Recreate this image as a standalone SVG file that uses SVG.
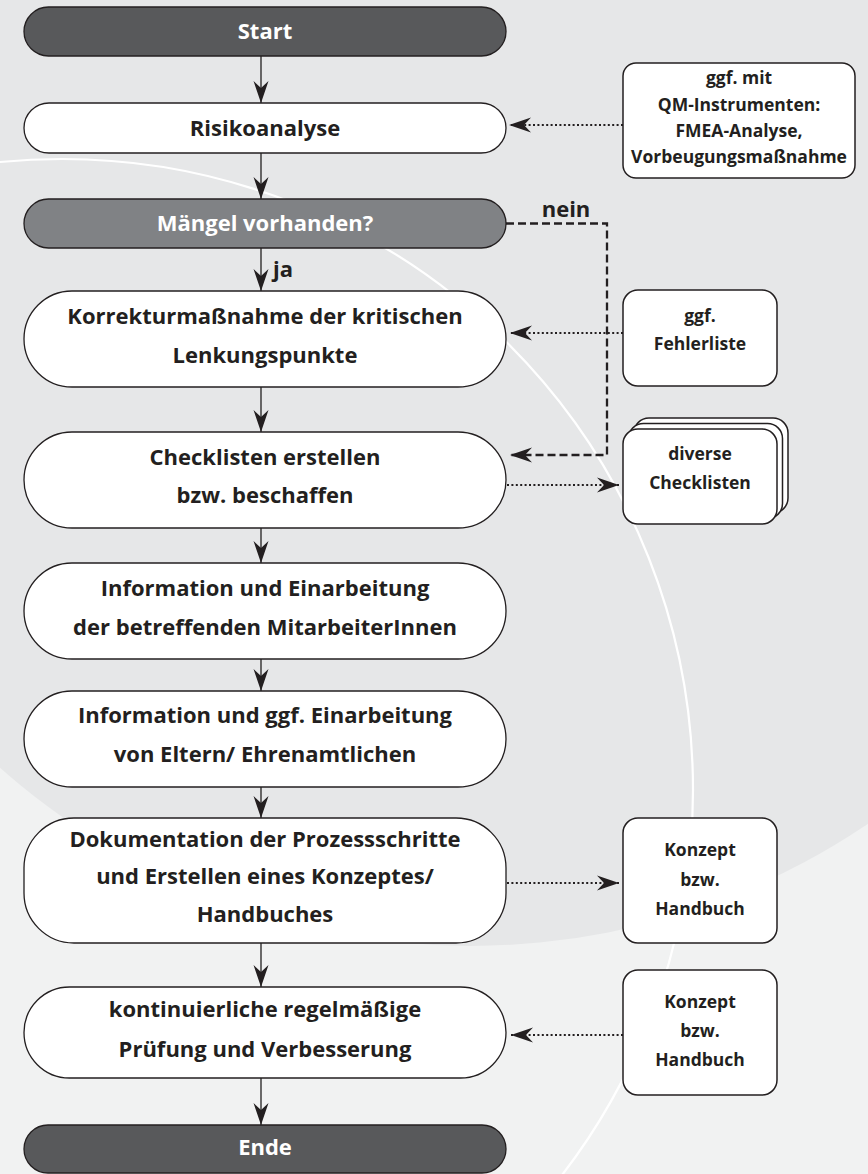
<svg xmlns="http://www.w3.org/2000/svg" width="868" height="1174" viewBox="0 0 868 1174">
<style>
.pill{fill:#ffffff;stroke:#231f20;stroke-width:1.3}
.dark{fill:#58595b;stroke:#231f20;stroke-width:1.3}
.mid{fill:#808285;stroke:#231f20;stroke-width:1.3}
.side{fill:#ffffff;stroke:#231f20;stroke-width:1.5}
.t{font-family:"Open Sans","Liberation Sans",sans-serif;font-weight:700;font-size:22px;fill:#231f20;text-anchor:middle}
.tw{fill:#ffffff}
.ts{font-family:"Open Sans","Liberation Sans",sans-serif;font-weight:700;font-size:17.5px;fill:#231f20;text-anchor:middle}
.solid{fill:none;stroke:#231f20;stroke-width:1.3}
.dot{fill:none;stroke:#231f20;stroke-width:2;stroke-dasharray:2 2.4}
.dash{fill:none;stroke:#231f20;stroke-width:2.3;stroke-dasharray:8 4}
</style>
<defs>
<marker id="ah" viewBox="-24 -9 26 18" refX="0" refY="0" markerWidth="26" markerHeight="18" markerUnits="userSpaceOnUse" orient="auto">
<path d="M0,0 L-22,-7.5 L-15,0 L-22,7.5 Z" fill="#231f20"/>
</marker>
</defs>
<g id="background">
<rect x="0" y="0" width="868" height="1174" fill="#f1f2f2"/>
<circle cx="470" cy="237" r="709" fill="#e6e7e8"/>
<circle cx="62" cy="790" r="631" fill="none" stroke="#ffffff" stroke-width="2.2"/>
</g>
<g id="connectors">
<path class="solid" d="M261,56 V103" marker-end="url(#ah)"/>
<path class="solid" d="M261,153 V199" marker-end="url(#ah)"/>
<path class="solid" d="M261,248 V291" marker-end="url(#ah)"/>
<path class="solid" d="M261,387 V432" marker-end="url(#ah)"/>
<path class="solid" d="M261,528 V563" marker-end="url(#ah)"/>
<path class="solid" d="M261,659 V691" marker-end="url(#ah)"/>
<path class="solid" d="M261,787 V818" marker-end="url(#ah)"/>
<path class="solid" d="M261,943 V987" marker-end="url(#ah)"/>
<path class="solid" d="M261,1078 V1125" marker-end="url(#ah)"/>
<path class="dot" d="M623,125 H509" marker-end="url(#ah)"/>
<path class="dot" d="M623,333 H510" marker-end="url(#ah)"/>
<path class="dot" d="M507,485 H619" marker-end="url(#ah)"/>
<path class="dot" d="M507,883 H619" marker-end="url(#ah)"/>
<path class="dot" d="M623,1035 H511" marker-end="url(#ah)"/>
<path class="dash" d="M506,223.5 H607 V455 H510" marker-end="url(#ah)"/>
<text class="t" x="566" y="217">nein</text>
<text class="t" x="283" y="277">ja</text>
</g>
<g id="start">
<rect class="dark" x="24" y="7" width="482" height="49" rx="24.5"/>
<text class="t tw" x="265" y="39">Start</text>
</g>
<g id="risikoanalyse">
<rect class="pill" x="24" y="103" width="482" height="50" rx="25"/>
<text class="t" x="265" y="136">Risikoanalyse</text>
</g>
<g id="maengel">
<rect class="mid" x="24" y="199" width="482" height="49" rx="24.5"/>
<text class="t tw" x="265" y="231">Mängel vorhanden?</text>
</g>
<g id="korrektur">
<rect class="pill" x="24" y="291" width="482" height="96" rx="48"/>
<text class="t" x="265" y="324">Korrekturmaßnahme der kritischen</text>
<text class="t" x="265" y="363">Lenkungspunkte</text>
</g>
<g id="checklisten">
<rect class="pill" x="24" y="432" width="482" height="96" rx="48"/>
<text class="t" x="265" y="465">Checklisten erstellen</text>
<text class="t" x="265" y="503">bzw. beschaffen</text>
</g>
<g id="information">
<rect class="pill" x="24" y="563" width="482" height="96" rx="48"/>
<text class="t" x="265" y="596">Information und Einarbeitung</text>
<text class="t" x="265" y="635">der betreffenden MitarbeiterInnen</text>
</g>
<g id="information-eltern">
<rect class="pill" x="24" y="691" width="482" height="96" rx="48"/>
<text class="t" x="265" y="723">Information und ggf. Einarbeitung</text>
<text class="t" x="265" y="762">von Eltern/ Ehrenamtlichen</text>
</g>
<g id="dokumentation">
<rect class="pill" x="24" y="818" width="482" height="125" rx="50"/>
<text class="t" x="265" y="847">Dokumentation der Prozessschritte</text>
<text class="t" x="265" y="884">und Erstellen eines Konzeptes/</text>
<text class="t" x="265" y="922">Handbuches</text>
</g>
<g id="pruefung">
<rect class="pill" x="24" y="987" width="482" height="91" rx="45.5"/>
<text class="t" x="265" y="1017">kontinuierliche regelmäßige</text>
<text class="t" x="265" y="1057">Prüfung und Verbesserung</text>
</g>
<g id="ende">
<rect class="dark" x="24" y="1125" width="482" height="48" rx="24"/>
<text class="t tw" x="265" y="1155">Ende</text>
</g>
<g id="qm-instrumente">
<rect class="side" x="623" y="63" width="232" height="115" rx="13"/>
<text class="ts" x="739" y="84">ggf. mit</text>
<text class="ts" x="739" y="111">QM-Instrumenten:</text>
<text class="ts" x="739" y="137">FMEA-Analyse,</text>
<text class="ts" x="739" y="163">Vorbeugungsmaßnahme</text>
</g>
<g id="fehlerliste">
<rect class="side" x="623" y="290" width="154" height="96" rx="15"/>
<text class="ts" x="700" y="322">ggf.</text>
<text class="ts" x="700" y="350">Fehlerliste</text>
</g>
<g id="diverse-checklisten">
<rect class="side" x="634" y="418" width="154" height="95" rx="15"/>
<rect class="side" x="628.5" y="423.5" width="154" height="95" rx="15"/>
<rect class="side" x="623" y="429" width="154" height="95" rx="15"/>
<text class="ts" x="700" y="460">diverse</text>
<text class="ts" x="700" y="489">Checklisten</text>
</g>
<g id="konzept-1">
<rect class="side" x="623" y="818" width="154" height="125" rx="15"/>
<text class="ts" x="700" y="856">Konzept</text>
<text class="ts" x="700" y="886">bzw.</text>
<text class="ts" x="700" y="915">Handbuch</text>
</g>
<g id="konzept-2">
<rect class="side" x="623" y="970" width="154" height="125" rx="15"/>
<text class="ts" x="700" y="1008">Konzept</text>
<text class="ts" x="700" y="1037">bzw.</text>
<text class="ts" x="700" y="1066">Handbuch</text>
</g>
</svg>
